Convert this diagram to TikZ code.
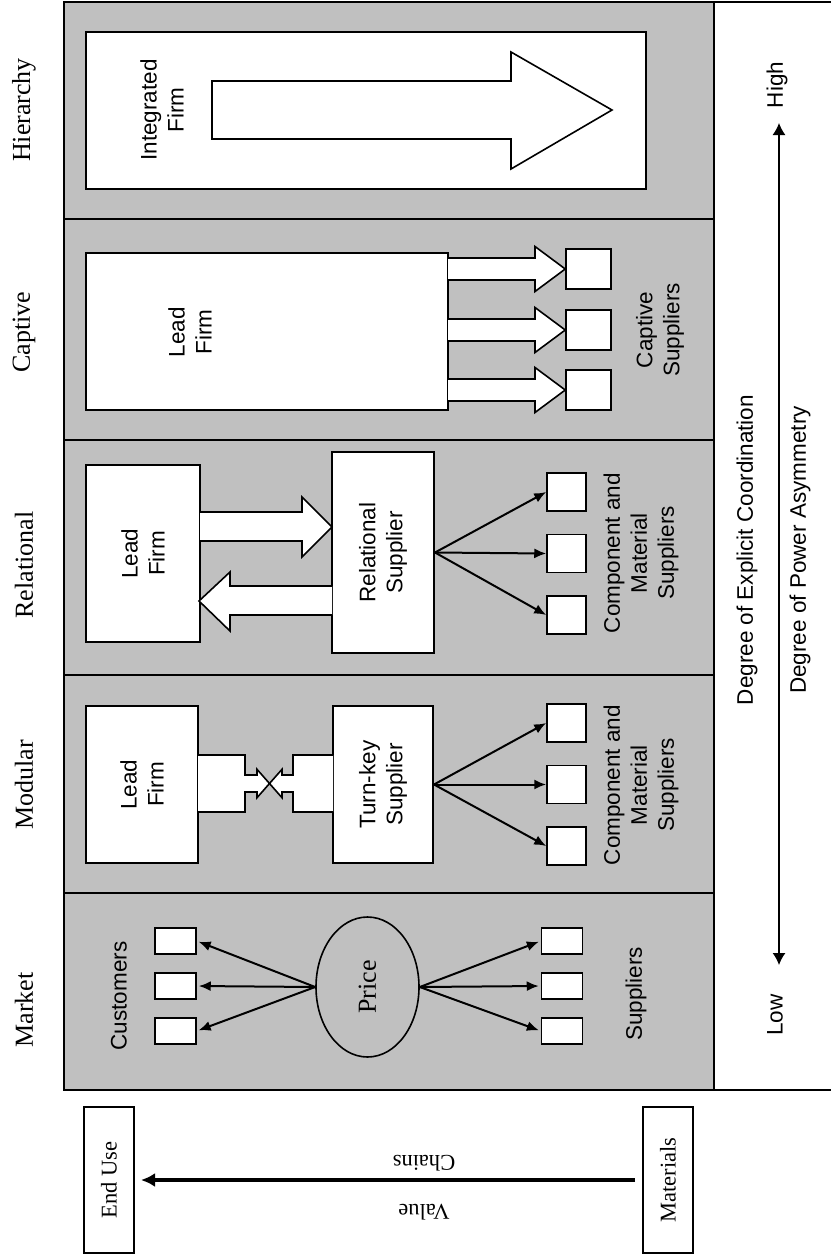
\documentclass[tikz,border=0pt]{standalone}
\usepackage{fontspec}
\setmainfont{Liberation Serif}
\setsansfont{Liberation Sans}
\usetikzlibrary{arrows.meta,shapes.geometric}
\definecolor{panelgray}{RGB}{192,192,192}

\begin{document}
\begin{tikzpicture}[x=0.5pt,y=-0.5pt,>=Latex,
  panel/.style={fill=panelgray, draw=black, line width=1pt},
  firm/.style={draw, fill=white, line width=1pt, inner sep=0pt},
  supbox/.style={firm, line width=0.75pt},
  blockarrow/.style={draw, fill=white, line width=0.8pt, line join=miter},
  link/.style={-{Latex[length=6pt,width=5pt]}, line width=1pt},
  sans/.style={font=\fontsize{11.25}{13.5}\selectfont\sffamily, align=center, rotate=90},
  serif/.style={font=\fontsize{13}{15}\selectfont, rotate=90},
  serifsm/.style={font=\fontsize{11.25}{13.5}\selectfont}]
  \useasboundingbox (0,0) rectangle (831,1258);
  % governance panels
  \foreach \ya/\yb in {2/219,219/440,440/675,675/893,893/1090}
    \draw[panel] (64,\ya) rectangle (714,\yb);
  \draw[line width=1pt] (714,2) -- (831,2);
  \draw[line width=1pt] (714,1090) -- (831,1090);
  \node[serif] (hierlbl) at (24,110) {Hierarchy};
  \node[serif] (captlbl) at (24,332) {Captive};
  \node[serif] (rellbl) at (24,565) {Relational};
  \node[serif] (modlbl) at (24,785) {Modular};
  \node[serif] (mktlbl) at (24,1010) {Market};

  % hierarchy
  \node[firm, minimum width=280pt, minimum height=78.5pt] (intfirm) at (366,110.5) {};
  \draw[blockarrow] (212,81) -- (511,81) -- (511,52) -- (612,110) -- (511,169) -- (511,139) -- (212,139) -- cycle;
  \node[sans] (inttxt) at (162,110) {Integrated\\Firm};

  % captive
  \node[firm, minimum width=181pt, minimum height=78.5pt] (clead) at (267,331.5) {};
  \node[sans] (cleadtxt) at (190,332) {Lead\\Firm};
  \foreach \i/\y in {1/269,2/330,3/390} {
    \node[supbox, minimum width=22.5pt, minimum height=20pt] (csup\i) at (588.5,\y) {};
    \draw[blockarrow] (448,\y-11) -- (535,\y-11) -- (535,\y-22.5) -- (csup\i.west)
      -- (535,\y+22.5) -- (535,\y+11) -- (448,\y+11);
  }
  \node[sans] (csuptxt) at (660,330) {Captive\\Suppliers};

  % relational
  \node[firm, minimum width=57pt, minimum height=88.5pt] (rlead) at (143,553.5) {};
  \node[firm, minimum width=51pt, minimum height=100.5pt] (rsup) at (383,552.5) {};
  \node[sans] at (rlead) {Lead\\Firm};
  \node[sans] at (rsup) {Relational\\Supplier};
  \draw[blockarrow] (200,512) -- (302,512) -- (302,497) -- (332,527) -- (302,557) -- (302,541) -- (200,541);
  \draw[blockarrow] (332,586) -- (230,586) -- (230,572) -- (199,601) -- (230,631) -- (230,615) -- (332,615);
  \foreach \i/\y in {1/492,2/553.5,3/615} {
    \node[supbox, minimum width=19.5pt, minimum height=19pt] (rcomp\i) at (566.5,\y) {};
    \draw[link] (rsup.east) -- (rcomp\i.west);
  }
  \node[sans] (rcomptxt) at (641,553) {Component and\\Material\\Suppliers};

  % modular
  \node[firm, minimum width=56pt, minimum height=78.5pt] (mlead) at (142,784.5) {};
  \node[firm, minimum width=50pt, minimum height=78.5pt] (mturn) at (383,784.5) {};
  \node[sans] at (mlead) {Lead\\Firm};
  \node[sans] at (mturn) {Turn-key\\Supplier};
  \draw[blockarrow] (198,755) -- (245,755) -- (245,775) -- (257,775) -- (257,769.3) -- (269.5,783.5)
    -- (257,797.7) -- (257,792) -- (245,792) -- (245,812) -- (198,812);
  \draw[blockarrow] (333,755) -- (293,755) -- (293,775) -- (282,775) -- (282,769.3) -- (269.5,783.5)
    -- (282,797.7) -- (282,792) -- (293,792) -- (293,812) -- (333,812);
  \foreach \i/\y in {1/723,2/784.5,3/846} {
    \node[supbox, minimum width=19.5pt, minimum height=19pt] (mcomp\i) at (566.5,\y) {};
    \draw[link] (mturn.east) -- (mcomp\i.west);
  }
  \node[sans] (mcomptxt) at (641,785) {Component and\\Material\\Suppliers};

  % market
  \node[draw, ellipse, line width=0.8pt, minimum width=51.5pt, minimum height=70pt, inner sep=0pt] (price) at (367.5,987) {};
  \node[serif] at (price) {Price};
  \foreach \i/\y in {1/941,2/986,3/1031} {
    \node[supbox, minimum width=20.5pt, minimum height=13pt] (cust\i) at (175.5,\y) {};
    \node[supbox, minimum width=20.5pt, minimum height=13pt] (supp\i) at (562,\y) {};
    \draw[link, shorten >=1pt] (price.west) -- (cust\i.east);
    \draw[link, shorten >=1pt] (price.east) -- (supp\i.west);
  }
  \node[sans] (custtxt) at (119,996) {Customers};
  \node[sans] (supptxt) at (636,994) {Suppliers};

  % degree axis
  \coordinate (hi) at (779,123);
  \coordinate (lo) at (779,965);
  \draw[{Latex[length=6pt,width=6.5pt]}-{Latex[length=6pt,width=6.5pt]}, line width=0.65pt] (lo) -- (hi);
  \node[sans] (hightxt) at (777,85) {High};
  \node[sans] (lowtxt) at (775,1015) {Low};
  \node[sans] (coordtxt) at (747,550) {Degree of Explicit Coordination};
  \node[sans] (powertxt) at (800,550) {Degree of Power Asymmetry};

  % value chain
  \node[firm, minimum width=25pt, minimum height=73pt] (enduse) at (109,1180) {};
  \node[firm, minimum width=25pt, minimum height=73pt] (materials) at (668,1180) {};
  \node[serifsm, rotate=90] at (enduse) {End Use};
  \node[serifsm, rotate=90] at (materials) {Materials};
  \draw[-{Latex[length=7pt,width=7pt]}, line width=2pt, shorten <=3.5pt, shorten >=3pt] (materials) -- (enduse);
  \node[serifsm, rotate=180] (valtxt) at (424,1212) {Value};
  \node[serifsm, rotate=180] (chaintxt) at (424,1163) {Chains};
\end{tikzpicture}
\end{document}
